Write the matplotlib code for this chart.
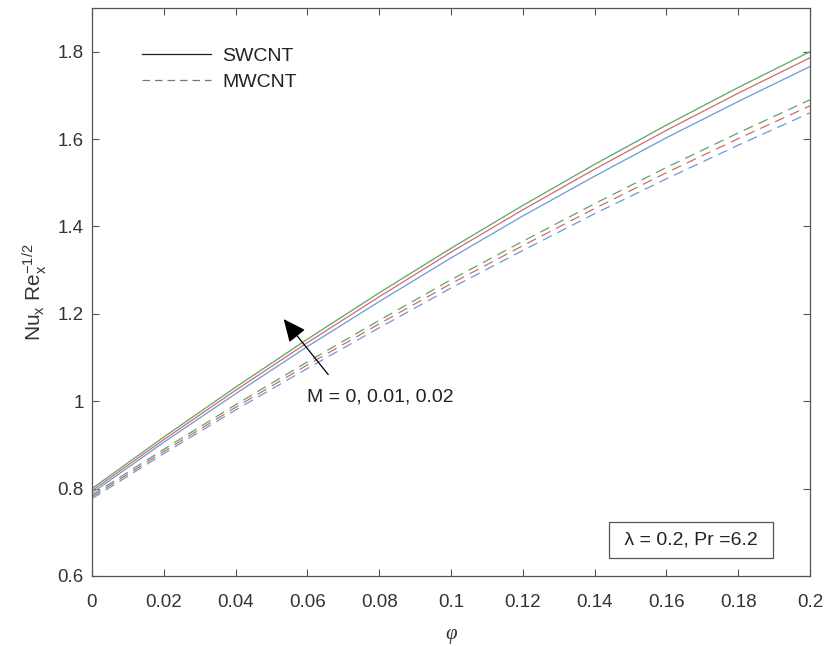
import matplotlib
matplotlib.use("Agg")
import matplotlib.pyplot as plt

plt.rcParams['font.family'] = ['Liberation Sans', 'DejaVu Sans']
plt.rcParams['mathtext.fontset'] = 'custom'
plt.rcParams['mathtext.rm'] = 'Liberation Sans'
plt.rcParams['mathtext.it'] = 'Liberation Sans'

phi = [0, 0.02, 0.04, 0.06, 0.08, 0.10, 0.12, 0.14, 0.16, 0.18, 0.20]

sw_M0 = [0.790, 0.906, 1.017, 1.125, 1.228, 1.328, 1.424, 1.515, 1.603, 1.686, 1.766]
sw_M1 = [0.795, 0.912, 1.025, 1.134, 1.239, 1.341, 1.438, 1.531, 1.620, 1.705, 1.786]
sw_M2 = [0.800, 0.918, 1.032, 1.142, 1.248, 1.350, 1.448, 1.542, 1.632, 1.718, 1.800]

mw_M0 = [0.777, 0.880, 0.980, 1.075, 1.168, 1.259, 1.345, 1.429, 1.509, 1.586, 1.660]
mw_M1 = [0.781, 0.885, 0.986, 1.083, 1.177, 1.269, 1.356, 1.441, 1.523, 1.601, 1.676]
mw_M2 = [0.785, 0.890, 0.992, 1.090, 1.185, 1.278, 1.366, 1.452, 1.535, 1.614, 1.690]

colors = ['#6a9ad6', '#d46a6a', '#5aa66a']

xticks = [0, 0.02, 0.04, 0.06, 0.08, 0.1, 0.12, 0.14, 0.16, 0.18, 0.2]
xticklabels = ['0', '0.02', '0.04', '0.06', '0.08', '0.1', '0.12', '0.14', '0.16', '0.18', '0.2']
yticks = [0.6, 0.8, 1.0, 1.2, 1.4, 1.6, 1.8]
yticklabels = ['0.6', '0.8', '1', '1.2', '1.4', '1.6', '1.8']

fig = plt.figure(figsize=(8.27, 6.46), dpi=100)
ax = fig.add_axes([0.1112, 0.1084, 0.8682, 0.8792])

for y, c in zip([sw_M0, sw_M1, sw_M2], colors):
    ax.plot(phi, y, color=c, lw=0.9, ls='-')
for y, c in zip([mw_M0, mw_M1, mw_M2], colors):
    ax.plot(phi, y, color=c, lw=0.9, ls=(0, (8, 5)))

# legend proxies
h1, = ax.plot([], [], color='#222222', lw=0.9, ls='-')
h2, = ax.plot([], [], color='#777777', lw=0.9, ls=(0, (6, 4)))
leg = ax.legend([h1, h2], ['SWCNT', 'MWCNT'], loc='upper left',
                bbox_to_anchor=(0.046, 0.962), frameon=False, fontsize=14,
                handlelength=3.5, handletextpad=0.6, labelspacing=0.45)
for t in leg.get_texts():
    t.set_color('#222222')

ax.annotate('', xy=(0.0529, 1.193), xytext=(0.0663, 1.056),
            arrowprops=dict(arrowstyle='-|>,head_length=1.0,head_width=0.45',
                            mutation_scale=14, color='black', lw=0.9))
ax.text(0.0802, 1.01, 'M = 0, 0.01, 0.02', fontsize=14, ha='center', va='center',
        color='#222222')

ax.text(0.1669, 0.682, ' λ = 0.2, Pr =6.2 ', fontsize=14, ha='center', va='center',
        color='#222222',
        bbox=dict(boxstyle='square,pad=0.5', facecolor='white', edgecolor='#555555', lw=0.9))

ax.set_xlim(0, 0.2)
ax.set_ylim(0.6, 1.9)
ax.set_xticks(xticks)
ax.set_xticklabels(xticklabels)
ax.set_yticks(yticks)
ax.set_yticklabels(yticklabels)
ax.tick_params(direction='in', length=5, width=0.8, colors='#555555',
               labelcolor='#333333', labelsize=13.5, top=True, right=True)
ax.tick_params(axis='x', pad=13)
ax.tick_params(axis='y', pad=6)
for s in ax.spines.values():
    s.set_color('#555555')
    s.set_linewidth(0.9)

ax.set_xlabel('φ', fontsize=15, family=['Liberation Serif', 'DejaVu Serif'],
              style='italic', color='#333333', labelpad=10)
ax.set_ylabel(r'Nu$_{\mathrm{x}}$ Re$_{\mathrm{x}}^{\mathrm{-1/2}}$', fontsize=15,
              color='#333333', labelpad=6)

fig.savefig('out.png', dpi=100)
